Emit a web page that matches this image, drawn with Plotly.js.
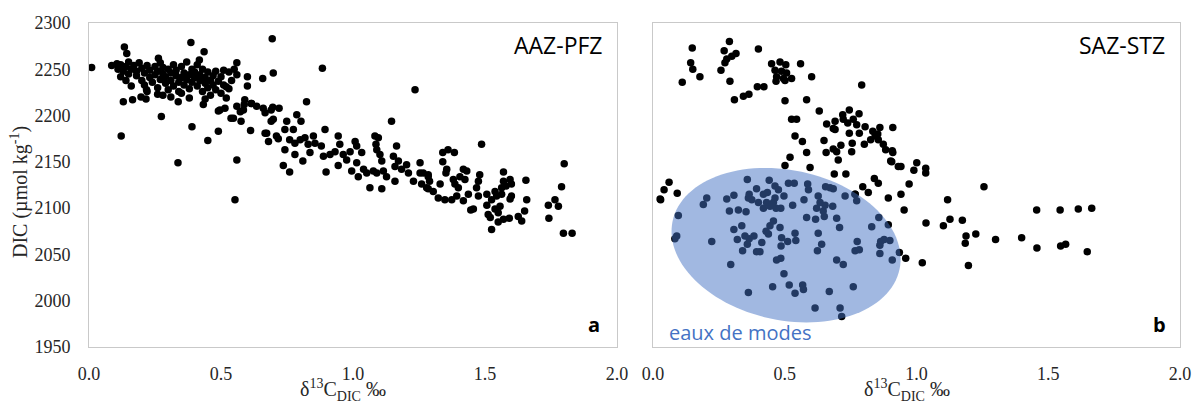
<!DOCTYPE html>
<html>
<head>
<meta charset="utf-8">
<script src="https://cdn.plot.ly/plotly-3.0.1.min.js"></script>
<style>html,body{margin:0;padding:0;background:#fff}#chart{width:1194px;height:406px}</style>
</head>
<body>
<div id="chart"></div>
<script>
// Panel a: AAZ-PFZ  [δ13C_DIC ‰, DIC µmol/kg]
const aazPoints = [
[0.01,2252],[0.134,2274],[0.143,2267],[0.386,2279],[0.436,2269],[0.086,2254],[0.106,2256],
[0.13,2215],[0.165,2217],[0.197,2220],[0.216,2218],[0.218,2228],[0.26,2223],[0.274,2199],
[0.122,2178],[0.39,2188],[0.45,2173],[0.49,2183],[0.433,2212],[0.49,2205],[0.515,2208],
[0.538,2197],[0.576,2194],[0.612,2184],[0.52,2219],[0.338,2215],[0.35,2224],[0.56,2257],
[0.60,2242],[0.60,2232],[0.59,2217],[0.56,2210],[0.573,2204],[0.588,2212],[0.614,2213],
[0.53,2229],[0.51,2233],[0.263,2262],[0.418,2260],[0.337,2149],[0.553,2109],[0.56,2152],
[0.585,2206],[0.635,2210],[0.69,2206],[0.547,2197],[0.496,2206],[0.673,2181],
// dense cluster
[0.11,2250],[0.12,2255],[0.13,2248],[0.14,2253],[0.15,2245],[0.15,2258],[0.16,2250],[0.17,2254],
[0.18,2243],[0.18,2248],[0.19,2257],[0.20,2251],[0.20,2238],[0.21,2246],[0.21,2233],[0.22,2254],
[0.23,2241],[0.23,2249],[0.24,2236],[0.25,2253],[0.25,2244],[0.26,2230],[0.26,2248],[0.27,2257],
[0.27,2239],[0.28,2245],[0.28,2252],[0.29,2235],[0.29,2242],[0.30,2250],[0.30,2228],[0.31,2246],
[0.31,2238],[0.32,2255],[0.32,2232],[0.33,2243],[0.33,2249],[0.34,2236],[0.34,2226],[0.35,2253],
[0.35,2241],[0.36,2246],[0.36,2233],[0.37,2258],[0.37,2239],[0.38,2244],[0.38,2229],[0.39,2250],
[0.39,2236],[0.40,2241],[0.40,2247],[0.41,2232],[0.41,2255],[0.42,2238],[0.42,2244],[0.43,2226],
[0.43,2250],[0.44,2235],[0.44,2241],[0.45,2230],[0.45,2247],[0.46,2238],[0.46,2222],[0.47,2243],
[0.47,2233],[0.48,2228],[0.48,2248],[0.49,2237],[0.50,2242],[0.50,2224],[0.51,2249],[0.52,2231],
[0.53,2247],[0.54,2238],[0.55,2250],[0.56,2244],[0.12,2242],[0.14,2238],[0.16,2232],[0.22,2226],
[0.28,2222],[0.44,2218],[0.38,2219],[0.31,2220],
// middle band
[0.694,2283],[0.884,2251],[1.235,2228],[0.658,2240],[0.698,2246],[0.616,2213],[0.66,2208],
[0.667,2203],[0.696,2209],[0.72,2208],[0.667,2181],[0.68,2172],[0.69,2194],[0.698,2196],
[0.71,2178],[0.717,2175],[0.824,2215],[0.787,2201],[0.803,2194],[0.749,2194],[0.742,2185],
[0.774,2185],[0.76,2174],[0.78,2170],[0.80,2174],[0.818,2176],[0.83,2169],[0.742,2163],
[0.78,2158],[0.81,2151],[0.837,2160],[0.85,2178],[0.856,2170],[0.736,2146],[0.76,2139],
[0.894,2185],[0.88,2167],[0.888,2156],[0.898,2139],[0.913,2158],[0.932,2161],[0.944,2178],
[0.95,2169],[0.944,2146],[0.963,2158],[0.976,2152],[0.989,2161],[1.008,2172],[1.014,2167],
[1.014,2149],[1.033,2160],[0.995,2140],[1.02,2134],[1.04,2142],[1.052,2138],[1.064,2122],
[1.109,2121],[1.077,2140],[1.083,2178],[1.096,2176],[1.087,2169],[1.09,2163],[1.102,2158],
[1.109,2151],[1.09,2138],[1.115,2140],[1.127,2134],[1.146,2194],[1.159,2145],[1.165,2167],
[1.153,2156],[1.172,2151],[1.159,2129],[1.184,2142],[1.203,2147],[1.21,2138],[1.229,2129],
[1.254,2149],[1.254,2138],[1.26,2126],[1.285,2134],[1.285,2121],
// right tail
[1.487,2169],[1.80,2148],[1.79,2123],[1.765,2109],[1.74,2103],[1.778,2102],[1.742,2089],
[1.797,2073],[1.83,2073],[1.655,2130],[1.658,2109],[1.65,2097],[1.626,2091],[1.639,2086],
[1.592,2089],[1.57,2088],[1.55,2085],[1.525,2077],[1.512,2093],[1.52,2090],[1.507,2103],
[1.538,2099],[1.557,2102],[1.55,2095],[1.446,2098],[1.456,2099],[1.418,2108],[1.507,2115],
[1.544,2113],[1.538,2118],[1.563,2122],[1.58,2124],[1.60,2126],[1.595,2131],[1.57,2139],
[1.60,2113],[1.595,2110],[1.34,2160],[1.36,2163],[1.384,2160],[1.34,2150],[1.355,2142],
[1.352,2138],[1.418,2142],[1.431,2140],[1.48,2136],[1.38,2131],[1.386,2126],[1.399,2122],
[1.405,2134],[1.424,2131],[1.475,2129],[1.468,2122],[1.475,2113],[1.437,2115],[1.393,2113],
[1.374,2109],[1.348,2109],[1.323,2111],[1.304,2118],[1.279,2122],[1.29,2129],[1.33,2126],
[1.266,2138],[1.285,2136],[1.57,2129],[1.563,2115],[1.525,2109]
];

// Panel b: SAZ-STZ
const sazPoints = [
[0.149,2273],[0.29,2280],[0.27,2270],[0.315,2267],[0.299,2264],[0.28,2261],[0.273,2257],
[0.258,2249],[0.292,2237],[0.40,2272],[0.143,2257],[0.151,2250],[0.178,2242],[0.111,2236],
[0.309,2217],[0.343,2221],[0.364,2223],[0.396,2231],[0.421,2231],[0.45,2256],[0.482,2258],
[0.504,2255],[0.463,2249],[0.488,2248],[0.507,2246],[0.469,2242],[0.495,2240],[0.526,2240],
[0.467,2237],[0.501,2238],[0.56,2256],[0.602,2242],[0.501,2216],[0.583,2217],[0.631,2205],
[0.792,2233],[0.526,2196],[0.545,2196],[0.539,2178],[0.567,2172],[0.583,2160],[0.52,2155],
[0.501,2146],[0.596,2144],[0.649,2173],[0.659,2191],[0.684,2186],[0.691,2194],[0.72,2201],
[0.745,2206],[0.722,2196],[0.739,2192],[0.76,2196],[0.782,2202],[0.773,2190],[0.745,2181],
[0.783,2181],[0.805,2188],[0.691,2185],[0.756,2170],[0.802,2169],[0.713,2168],[0.684,2164],
[0.697,2161],[0.657,2160],[0.754,2161],[0.703,2152],[0.688,2137],[0.732,2137],[0.826,2174],
[0.843,2178],[0.861,2187],[0.853,2180],[0.834,2183],[0.855,2174],[0.874,2169],[0.883,2163],
[0.908,2162],[0.902,2151],[0.91,2187],[0.931,2145],[0.84,2132],[0.855,2127],[0.796,2123],
[0.817,2117],[0.767,2115],[0.893,2111],[0.061,2128],[0.042,2120],[0.029,2109],[0.092,2116],
[0.91,2160],[0.906,2150],[0.941,2145],[1.001,2149],[0.99,2141],[1.035,2143],[1.035,2138],
[0.972,2126],[0.941,2115],[1.256,2123],[1.118,2109],[0.953,2098],[1.036,2084],[1.127,2088],
[1.102,2081],[1.174,2087],[1.188,2070],[1.225,2072],[1.185,2062],[1.30,2066],[1.399,2068],
[1.197,2038],[1.022,2041],[0.959,2046],[0.935,2052],[1.456,2098],[1.545,2098],[1.614,2099],
[1.665,2100],[1.457,2057],[1.547,2059],[1.566,2061],[1.648,2053],
// mode waters (inside ellipse)
[0.358,2131],[0.441,2130],[0.463,2124],[0.476,2120],[0.514,2127],[0.536,2127],[0.587,2126],
[0.59,2120],[0.655,2123],[0.672,2122],[0.684,2121],[0.729,2113],[0.773,2108],[0.767,2115],
[0.627,2113],[0.634,2106],[0.573,2109],[0.497,2113],[0.463,2111],[0.457,2106],[0.431,2106],
[0.393,2121],[0.365,2115],[0.375,2109],[0.419,2115],[0.434,2117],[0.307,2114],[0.28,2110],
[0.204,2111],[0.191,2104],[0.29,2097],[0.324,2098],[0.353,2096],[0.362,2111],[0.40,2106],
[0.419,2100],[0.444,2102],[0.467,2100],[0.485,2100],[0.53,2103],[0.621,2100],[0.646,2097],
[0.653,2103],[0.682,2102],[0.583,2090],[0.617,2088],[0.65,2091],[0.697,2089],[0.708,2079],
[0.096,2092],[0.09,2070],[0.083,2067],[0.223,2064],[0.295,2039],[0.307,2077],[0.337,2081],
[0.32,2066],[0.349,2070],[0.365,2067],[0.383,2070],[0.358,2061],[0.34,2054],[0.393,2053],
[0.406,2053],[0.413,2063],[0.429,2075],[0.444,2081],[0.457,2086],[0.482,2079],[0.438,2072],
[0.488,2068],[0.511,2064],[0.539,2073],[0.542,2065],[0.486,2059],[0.469,2044],[0.485,2046],
[0.497,2029],[0.627,2073],[0.64,2061],[0.624,2054],[0.697,2044],[0.722,2039],[0.775,2064],
[0.767,2054],[0.783,2055],[0.83,2080],[0.857,2090],[0.861,2060],[0.864,2064],[0.861,2051],
[0.877,2066],[0.899,2065],[0.908,2044],[0.893,2082],[0.362,2009],[0.454,2015],[0.517,2017],
[0.568,2017],[0.571,2012],[0.539,2008],[0.669,2010],[0.76,2015],[0.615,1992],[0.71,1992],
[0.716,1983],[0.027,2110]
];

const xTickVals = [0, 0.5, 1.0, 1.5, 2.0];
const xTickText = ['0.0', '0.5', '1.0', '1.5', '2.0'];
const yTickVals = [1950, 2000, 2050, 2100, 2150, 2200, 2250, 2300];

const W = 1194, H = 406;
const xDomA = [89 / W, 617 / W];
const xDomB = [653 / W, 1180 / W];
const yDom = [1 - 347 / H, 1 - 23 / H];
const xRange = [0, 2], yRange = [1950, 2300];

// ellipse ("eaux de modes") centre in data units, semi-axes in pixels, tilt in degrees
const ell = {cx: 0.505, cy: 2060, a: 116, b: 75, tilt: 12};
const pxPerX = (xDomB[1] - xDomB[0]) * W / (xRange[1] - xRange[0]);
const pxPerY = (yDom[1] - yDom[0]) * H / (yRange[1] - yRange[0]);
let path = '';
const th = ell.tilt * Math.PI / 180;
for (let i = 0; i <= 120; i++) {
  const t = i / 120 * 2 * Math.PI;
  const dx = ell.a * Math.cos(t), dy = ell.b * Math.sin(t);
  const X = dx * Math.cos(th) - dy * Math.sin(th);
  const Y = dx * Math.sin(th) + dy * Math.cos(th);
  const x = ell.cx + X / pxPerX, y = ell.cy - Y / pxPerY;
  path += (i === 0 ? 'M ' : ' L ') + x.toFixed(5) + ',' + y.toFixed(3);
}
path += ' Z';

const marker = {color: '#000000', size: 7.5, line: {width: 0}};
const traces = [
  {type: 'scatter', mode: 'markers', x: aazPoints.map(p => p[0]), y: aazPoints.map(p => p[1]),
   xaxis: 'x', yaxis: 'y', marker: marker, hoverinfo: 'skip'},
  {type: 'scatter', mode: 'markers', x: sazPoints.map(p => p[0]), y: sazPoints.map(p => p[1]),
   xaxis: 'x2', yaxis: 'y2', marker: marker, hoverinfo: 'skip'}
];

const serif = 'Liberation Serif, Times New Roman, serif';
const tickFont = {family: serif, size: 18, color: '#262626'};
const axBase = {showline: true, mirror: true, linecolor: '#C9C9C9', linewidth: 1, showgrid: false,
  zeroline: false, ticks: '', automargin: false, tickfont: tickFont, fixedrange: true};

const layout = {
  width: W, height: H, margin: {l: 0, r: 0, t: 0, b: 0},
  paper_bgcolor: '#ffffff', plot_bgcolor: '#ffffff', showlegend: false,
  xaxis: Object.assign({}, axBase, {domain: xDomA, range: xRange, anchor: 'y',
    tickvals: xTickVals, ticktext: xTickText, ticklabelstandoff: 10}),
  yaxis: Object.assign({}, axBase, {domain: yDom, range: yRange, anchor: 'x',
    tickvals: yTickVals, ticklabelstandoff: 14}),
  xaxis2: Object.assign({}, axBase, {domain: xDomB, range: xRange, anchor: 'y2',
    tickvals: xTickVals, ticktext: xTickText, ticklabelstandoff: 10}),
  yaxis2: Object.assign({}, axBase, {domain: yDom, range: yRange, anchor: 'x2',
    tickvals: yTickVals, showticklabels: false}),
  shapes: [{type: 'path', xref: 'x2', yref: 'y2', path: path, layer: 'above',
    fillcolor: 'rgba(68,114,196,0.5)', line: {width: 0}}],
  annotations: [
    {xref: 'paper', yref: 'paper', x: 19 / W, y: 1 - 192 / H, text: 'DIC (µmol kg<sup>-1</sup>)',
     textangle: -90, showarrow: false, xanchor: 'center', yanchor: 'middle',
     font: {family: serif, size: 20, color: '#262626'}},
    {xref: 'paper', yref: 'paper', x: 343 / W, y: 1 - 390 / H, text: 'δ<sup>13</sup>C<sub>DIC</sub> ‰',
     showarrow: false, xanchor: 'center', yanchor: 'middle',
     font: {family: serif, size: 20, color: '#262626'}},
    {xref: 'paper', yref: 'paper', x: 907 / W, y: 1 - 390 / H, text: 'δ<sup>13</sup>C<sub>DIC</sub> ‰',
     showarrow: false, xanchor: 'center', yanchor: 'middle',
     font: {family: serif, size: 20, color: '#262626'}},
    {xref: 'paper', yref: 'paper', x: 605 / W, y: 1 - 45 / H, text: 'AAZ-PFZ', showarrow: false,
     xanchor: 'right', yanchor: 'middle', font: {family: 'Open Sans, sans-serif', size: 23, color: '#000000'}},
    {xref: 'paper', yref: 'paper', x: 602 / W, y: 1 - 324 / H, text: '<b>a</b>', showarrow: false,
     xanchor: 'right', yanchor: 'middle', font: {family: 'Open Sans, sans-serif', size: 20, color: '#000000'}},
    {xref: 'paper', yref: 'paper', x: 1167 / W, y: 1 - 45 / H, text: 'SAZ-STZ', showarrow: false,
     xanchor: 'right', yanchor: 'middle', font: {family: 'Open Sans, sans-serif', size: 23, color: '#000000'}},
    {xref: 'paper', yref: 'paper', x: 1168 / W, y: 1 - 324 / H, text: '<b>b</b>', showarrow: false,
     xanchor: 'right', yanchor: 'middle', font: {family: 'Open Sans, sans-serif', size: 20, color: '#000000'}},
    {xref: 'paper', yref: 'paper', x: 667 / W, y: 1 - 332 / H, text: 'eaux de modes', showarrow: false,
     xanchor: 'left', yanchor: 'middle', font: {family: 'Open Sans, sans-serif', size: 20, color: '#4472C4'}}
  ]
};

Plotly.newPlot('chart', traces, layout, {staticPlot: true, displayModeBar: false});
</script>
</body>
</html>
